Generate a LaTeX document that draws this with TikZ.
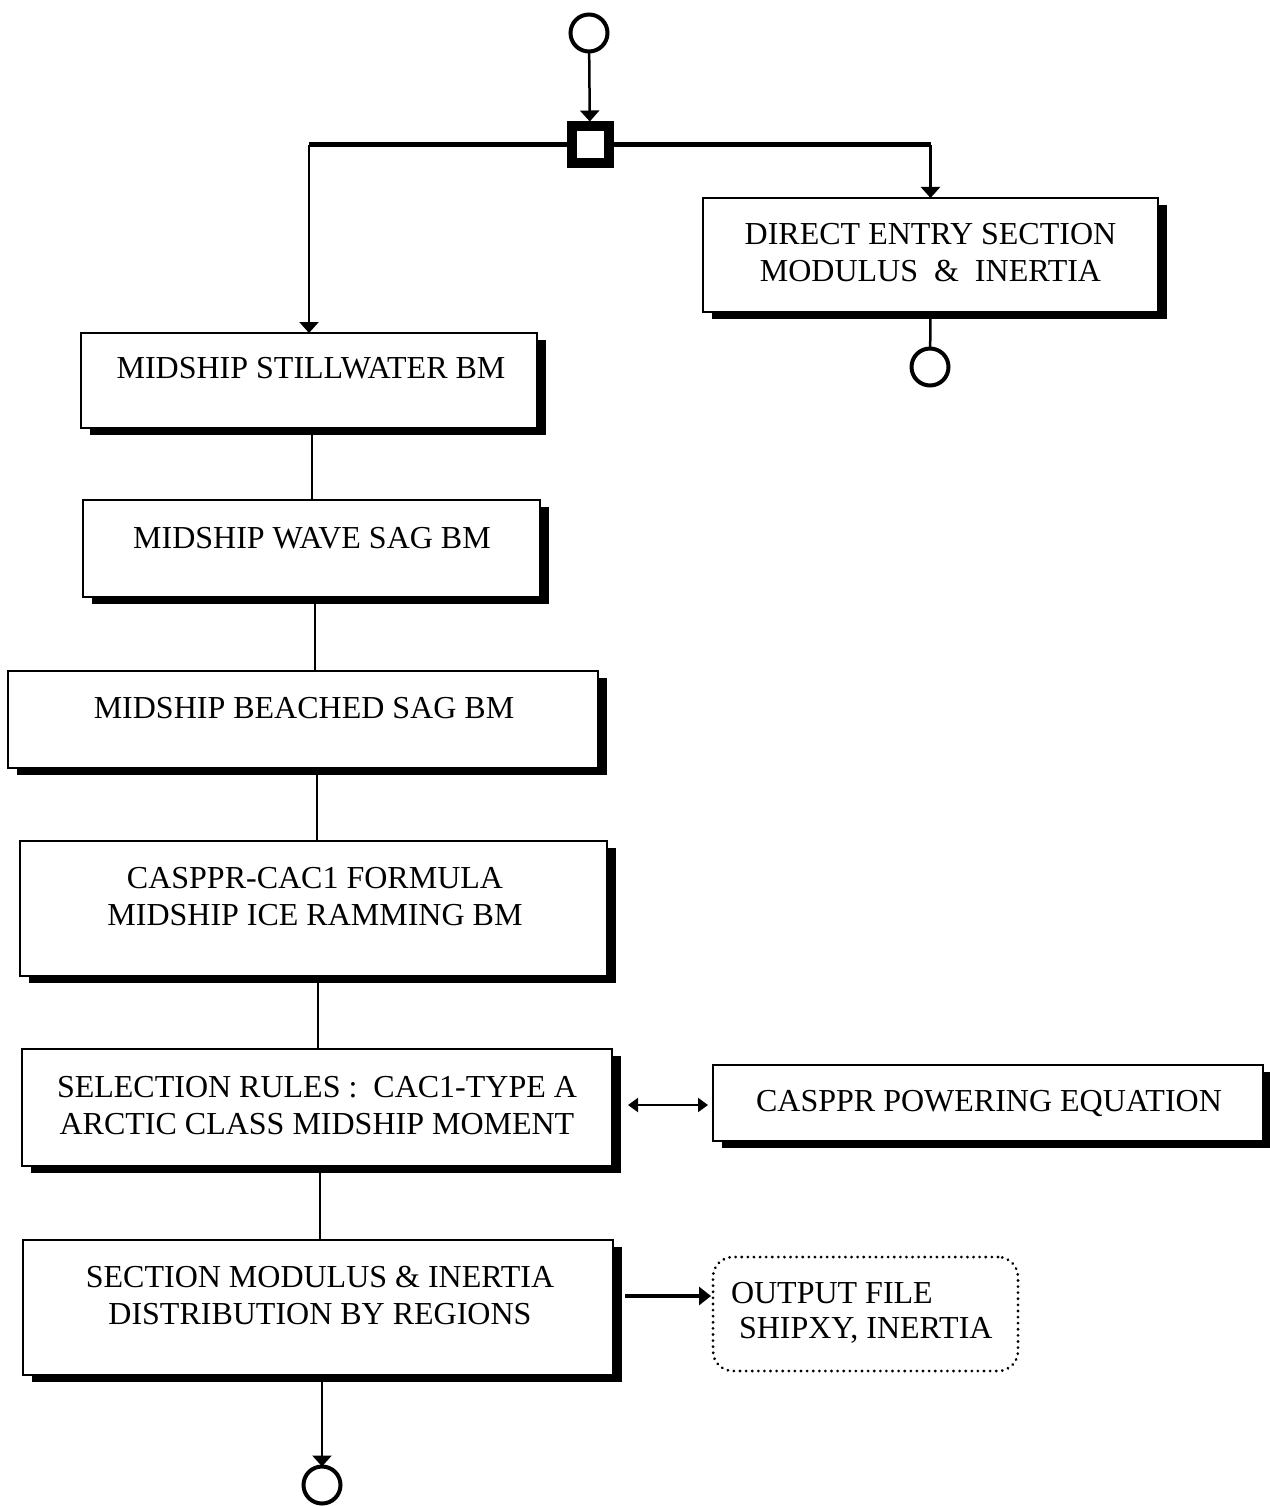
\documentclass[tikz,border=0pt]{standalone}
\usepackage{fontspec}
\setmainfont{Liberation Serif}
\usetikzlibrary{arrows.meta,shadows,calc}
\begin{document}
\begin{tikzpicture}[x=1pt,y=-1pt,
  every node/.style={inner sep=0pt, outer sep=0pt},
  box/.style={draw=black, fill=white, line width=2.5pt, rectangle,
    general shadow={fill=black, shadow xshift=9pt, shadow yshift=-7pt}},
  txt/.style={font=\fontsize{32}{37}\selectfont, align=center},
  term/.style={draw=black, circle, line width=4pt, minimum size=37pt, fill=white},
  junction/.style={draw=black, rectangle, line width=10pt, minimum size=37pt, fill=white, outer sep=5pt},
  conn/.style={line width=2.5pt},
  tip/.style={-{Triangle[width=19pt,length=11pt]}},
  outbox/.style={draw=black, rounded corners=20pt, line width=3pt, dash pattern=on 0.1pt off 6pt, line cap=round, rectangle}
]
\useasboundingbox (0,0) rectangle (1269,1506);

% terminals and junction
\node[term] (c1) at (589,33) {};
\node[junction] (jn) at (590,145) {};
\node[term] (c2) at (930,367) {};
\node[term] (c3) at (322,1485) {};

% boxes
\node[box, minimum width=455pt, minimum height=114pt] (bd) at (930.5,255) {};
\node[box, minimum width=456pt, minimum height=95pt] (b1) at (309,380.5) {};
\node[box, minimum width=457pt, minimum height=97pt] (b2) at (311.5,548.5) {};
\node[box, minimum width=590pt, minimum height=97pt] (b3) at (303,719.5) {};
\node[box, minimum width=587pt, minimum height=135pt] (b4) at (313.5,908.5) {};
\node[box, minimum width=590pt, minimum height=117pt] (b5) at (317,1107.5) {};
\node[box, minimum width=550pt, minimum height=76pt] (b6) at (988,1103) {};
\node[box, minimum width=590pt, minimum height=135pt] (b7) at (318,1307.5) {};
\node[outbox, minimum width=305pt, minimum height=114pt] (out) at (865.5,1314) {};

% texts
\node[txt] (td) at (930.5,253) {DIRECT ENTRY SECTION\\MODULUS\ \ \&\ \ INERTIA};
\node[txt] (t1) at (311,368) {MIDSHIP STILLWATER BM};
\node[txt] (t2) at (312,538) {MIDSHIP WAVE SAG BM};
\node[txt] (t3) at (304,708) {MIDSHIP BEACHED SAG BM};
\node[txt] (t4) at (315,896.5) {CASPPR-CAC1 FORMULA\\MIDSHIP ICE RAMMING BM};
\node[txt] (t5) at (317,1105.5) {SELECTION RULES :\ \ CAC1-TYPE A\\ARCTIC CLASS MIDSHIP MOMENT};
\node[txt] (t6) at (989,1103) {CASPPR POWERING EQUATION};
\node[txt] (t7) at (320,1295.5) {SECTION MODULUS \& INERTIA\\DISTRIBUTION BY REGIONS};
\node[txt, align=left, anchor=west] (to1) at (731,1293) {OUTPUT FILE};
\node[txt, align=left, anchor=west] (to2) at (739,1330) {SHIPXY, INERTIA};

% guide coordinates
\coordinate (x12) at (312,0);
\coordinate (x23) at (315,0);
\coordinate (x34) at (317,0);
\coordinate (x45) at (318,0);
\coordinate (x57) at (320,0);
\coordinate (x7c) at (322,0);
\coordinate (yd) at (0,1105);
\coordinate (ya) at (0,1296);

% connectors
\draw[conn, tip] (c1) -- (jn);
\draw[line width=5pt] (jn.west) -- (jn.west -| b1.north);
\draw[conn, tip] (jn.west -| b1.north) -- (b1.north);
\draw[line width=5pt] (jn.east) -- (jn.east -| bd.north);
\draw[conn, tip] (jn.east -| bd.north) -- (bd.north);
\draw[conn] (bd.south) -- (c2);
\draw[conn] (b1.south -| x12) -- (b2.north -| x12);
\draw[conn] (b2.south -| x23) -- (b3.north -| x23);
\draw[conn] (b3.south -| x34) -- (b4.north -| x34);
\draw[conn] (b4.south -| x45) -- (b5.north -| x45);
\draw[conn] (b5.south -| x57) -- (b7.north -| x57);
\draw[conn, tip] ($(b7.south -| x7c)+(0,6)$) -- (c3);
\draw[line width=2pt, {Triangle[width=14pt,length=10pt]}-{Triangle[width=14pt,length=10pt]}, shorten <=16pt, shorten >=5pt] (b5.east |- yd) -- (b6.west |- yd);
\draw[line width=4.5pt, -{Triangle[width=18pt,length=12pt]}, shorten <=12pt, shorten >=2pt] (b7.east |- ya) -- (out.west |- ya);
\end{tikzpicture}
\end{document}
